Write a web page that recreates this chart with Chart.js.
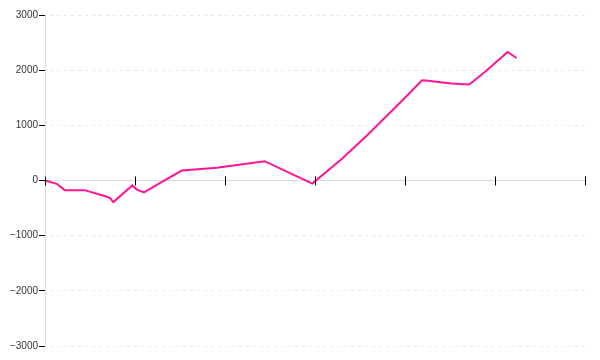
<!DOCTYPE html>
<html>
<head>
<meta charset="utf-8">
<script src="https://cdn.jsdelivr.net/npm/chart.js@4/dist/chart.umd.min.js"></script>
<style>
    html, body { margin: 0; padding: 0; background: #fff; }
    #chart-box { width: 600px; height: 360px; }
</style>
</head>
<body>
<div id="chart-box"><canvas id="data-chart" width="600" height="360"></canvas></div>
<script>
// x positions of the line's points (axis runs 0..60, tick every 10)
const xValues = [0, 1.3, 2.2, 4.4, 6.7, 7.2, 7.6, 9.7, 10.2, 11, 12.6, 15.2, 19.1, 24.4,
    29.7, 33, 35.8, 39.8, 41.9, 42.6, 43.9, 45.2, 46.6, 47.1, 47.6, 48.9, 51.4, 52.4];
// line values
const yValues = [0, -60, -175, -175, -285, -315, -390, -90, -165, -215, -60, 180, 230, 350,
    -55, 393, 820, 1467, 1817, 1806, 1780, 1757, 1745, 1740, 1800, 1970, 2330, 2220];
// axis settings
const xTicks = [0, 10, 20, 30, 40, 50, 60];
const yTicks = [-3000, -2000, -1000, 0, 1000, 2000, 3000];

const points = xValues.map((x, i) => ({ x: x, y: yValues[i] }));

// tick marks crossing the x axis line, plus a solid y axis line
const axisMarks = {
    id: 'axisMarks',
    afterDraw(chart) {
        const ctx = chart.ctx;
        const xs = chart.scales.x;
        const ys = chart.scales.y;
        const y0 = ys.getPixelForValue(0);
        ctx.save();
        // y axis line
        ctx.strokeStyle = '#dddddd';
        ctx.lineWidth = 1;
        ctx.beginPath();
        ctx.moveTo(ys.right + 0.5, ys.top);
        ctx.lineTo(ys.right + 0.5, ys.bottom);
        ctx.stroke();
        // x ticks
        ctx.strokeStyle = '#000';
        xTicks.forEach((t) => {
            const px = Math.round(xs.getPixelForValue(t)) + 0.5;
            ctx.beginPath();
            ctx.moveTo(px, y0 - 4);
            ctx.lineTo(px, y0 + 5);
            ctx.stroke();
        });
        ctx.restore();
    }
};

const chartEl = document.getElementById('data-chart').getContext('2d');
const dataChart = new Chart(chartEl, {
    type: 'line',
    data: {
        datasets: [{
            label: 'Series',
            data: points,
            borderColor: '#ff1493',
            borderWidth: 2,
            pointRadius: 0,
            tension: 0,
            fill: false
        }]
    },
    options: {
        responsive: false,
        animation: false,
        layout: { padding: { top: 15, right: 15, bottom: 14, left: 0 } },
        plugins: {
            legend: { display: false },
            tooltip: { enabled: false }
        },
        scales: {
            x: {
                type: 'linear',
                min: 0,
                max: 60,
                position: { y: 0 },
                ticks: { display: false, stepSize: 10 },
                grid: { display: false },
                border: { color: '#dddddd', width: 1 }
            },
            y: {
                type: 'linear',
                min: -3000,
                max: 3000,
                afterFit: (s) => { s.width = 45; },
                afterBuildTicks: (s) => { s.ticks = yTicks.map((v) => ({ value: v })); },
                ticks: {
                    color: '#333333',
                    padding: 1,
                    font: { family: 'Liberation Sans', size: 10 },
                    callback: (v) => String(v).replace('-', '\u2212')
                },
                grid: {
                    color: '#e8e8e8',
                    tickColor: '#000',
                    tickBorderDash: [],
                    tickLength: 6
                },
                border: { display: false, dash: [3, 4], dashOffset: 2 }
            }
        }
    },
    plugins: [axisMarks]
});
</script>
</body>
</html>
